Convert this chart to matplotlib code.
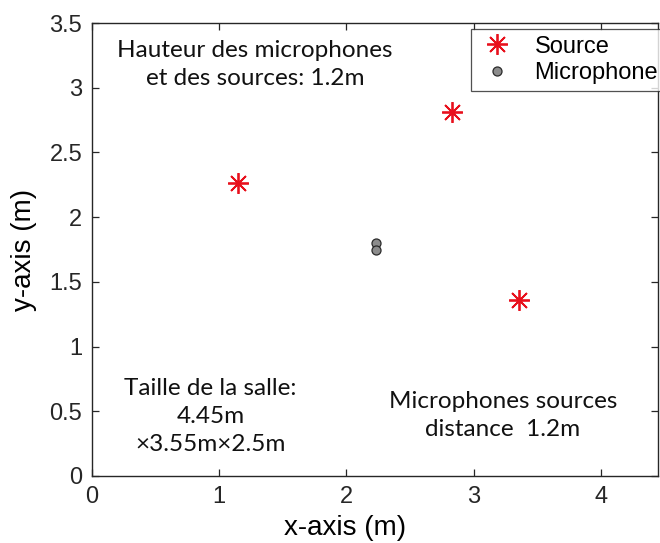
import matplotlib.pyplot as plt

# source and microphone positions (m)
source_x = [1.15, 2.83, 3.36]
source_y = [2.26, 2.81, 1.36]
mic_x = [2.23, 2.23]
mic_y = [1.80, 1.75]

x_ticks = [0, 1, 2, 3, 4]
y_ticks = [0, 0.5, 1, 1.5, 2, 2.5, 3, 3.5]
y_tick_labels = ["0", "0.5", "1", "1.5", "2", "2.5", "3", "3.5"]

note_height = "Hauteur des microphones\net des sources: 1.2m"
note_room = "Taille de la salle:\n4.45m\n×3.55m×2.5m"
note_dist = "Microphones sources\ndistance  1.2m"

plt.rcParams["font.family"] = ["Liberation Sans", "DejaVu Sans"]

fig = plt.figure(figsize=(6.6, 5.43), dpi=100)
ax = fig.add_axes([92 / 660, 1 - 476 / 543, 566 / 660, 453 / 543])

ax.plot(source_x, source_y, linestyle="none", marker=(8, 2, 0),
        markersize=15, markeredgewidth=1.3, color="#e8101c", label="Source")
ax.plot(mic_x, mic_y, linestyle="none", marker="o", markersize=6.5,
        markerfacecolor="#8c8c8c", markeredgecolor="#2a2a2a",
        markeredgewidth=0.9, label="Microphone")

ax.set_xlim(0, 4.45)
ax.set_ylim(0, 3.5)
ax.set_xticks(x_ticks)
ax.set_yticks(y_ticks)
ax.set_yticklabels(y_tick_labels)
ax.tick_params(direction="in", top=True, right=True, length=5,
               width=0.9, labelsize=17, colors="#262626", pad=7)
for sp in ax.spines.values():
    sp.set_linewidth(1.0)
    sp.set_color("#262626")

ax.set_xlabel("x-axis (m)", fontsize=20)
ax.set_ylabel("y-axis (m)", fontsize=20)
ax.xaxis.set_label_coords(0.447, -0.085)
ax.yaxis.set_label_coords(-0.097, 0.5)

# legend runs off the right edge like the original
leg = ax.legend(loc="upper left", bbox_to_anchor=(0.67, 0.987),
                borderaxespad=0, fontsize=17, frameon=True, fancybox=False,
                handlelength=1.6, handletextpad=0.8, borderpad=0.28,
                labelspacing=0.2)
leg.get_frame().set_edgecolor("#262626")
leg.get_frame().set_linewidth(0.9)

note_kw = dict(ha="center", va="center", fontsize=17.5,
               family=["Lato", "DejaVu Sans"], linespacing=1.42,
               color="#111111")
ax.text(1.28, 3.18, note_height, **note_kw)
ax.text(0.93, 0.46, note_room, **note_kw)
ax.text(3.23, 0.47, note_dist, **note_kw)

fig.savefig("out.png", dpi=100)
